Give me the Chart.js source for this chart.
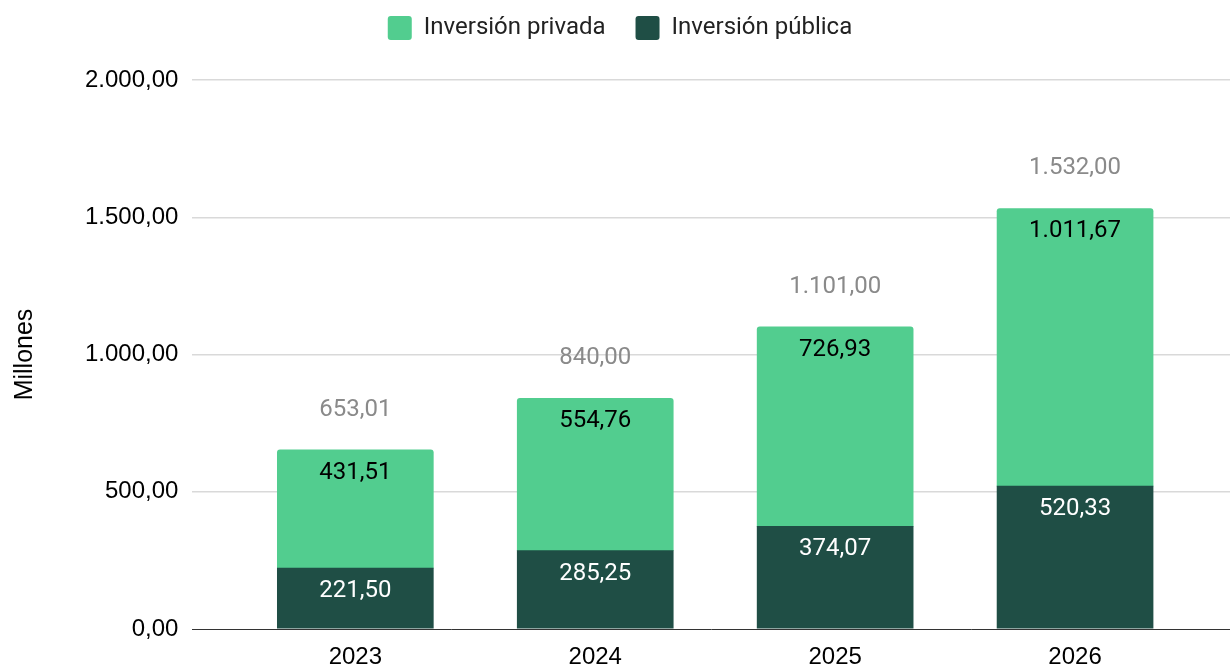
<!DOCTYPE html>
<html>
<head>
<meta charset="utf-8">
<script src="https://cdn.jsdelivr.net/npm/chart.js@4.4.1/dist/chart.umd.min.js"></script>
<style>
  html, body { margin: 0; padding: 0; background: #ffffff; }
  #wrap { width: 1230px; height: 670px; position: relative; }
</style>
</head>
<body>
<div id="wrap"><canvas id="c" width="1230" height="670"></canvas></div>
<script>
const years = ['2023', '2024', '2025', '2026'];
const publica = [221.50, 285.25, 374.07, 520.33];
const privada = [431.51, 554.76, 726.93, 1011.67];
const totals = [653.01, 840.00, 1101.00, 1532.00];
const yTicks = [0, 500, 1000, 1500, 2000];

function fmt(v) {
  const parts = v.toFixed(2).split('.');
  const intPart = parts[0].replace(/\B(?=(\d{3})+(?!\d))/g, '.');
  return intPart + ',' + parts[1];
}

const legendSpace = {
  id: 'legendSpace',
  beforeInit(chart) {
    const lg = chart.legend;
    if (!lg) return;
    const origFit = lg.fit;
    lg.fit = function () {
      origFit.call(this);
      this.height += 30;
    };
  }
};

const labelPlugin = {
  id: 'barLabels',
  afterDatasetsDraw(chart) {
    const ctx = chart.ctx;
    ctx.save();
    ctx.textAlign = 'center';
    ctx.textBaseline = 'middle';
    ctx.font = '24px Roboto';
    const metaPub = chart.getDatasetMeta(0);
    const metaPriv = chart.getDatasetMeta(1);
    metaPub.data.forEach((bar, i) => {
      ctx.fillStyle = '#ffffff';
      ctx.fillText(fmt(publica[i]), bar.x, bar.y + 23);
    });
    metaPriv.data.forEach((bar, i) => {
      ctx.fillStyle = '#000000';
      ctx.fillText(fmt(privada[i]), bar.x, bar.y + 23);
      ctx.fillStyle = '#8a8a8a';
      const yTop = chart.scales.y.getPixelForValue(totals[i]);
      ctx.fillText(fmt(totals[i]), bar.x, yTop - 40);
    });
    ctx.restore();
  }
};

new Chart(document.getElementById('c'), {
  type: 'bar',
  data: {
    datasets: [
      {
        label: 'Inversión pública',
        data: publica.map((v, i) => ({ x: i, y: v })),
        backgroundColor: '#1f4e45',
        borderWidth: 0,
        barThickness: 156
      },
      {
        label: 'Inversión privada',
        data: privada.map((v, i) => ({ x: i, y: v })),
        backgroundColor: '#52cd8f',
        borderWidth: 0,
        borderRadius: { topLeft: 3, topRight: 3, bottomLeft: 0, bottomRight: 0 },
        borderSkipped: 'bottom',
        barThickness: 156
      }
    ]
  },
  options: {
    responsive: false,
    animation: false,
    devicePixelRatio: 1,
    layout: { padding: { left: 10, right: 0, top: -14, bottom: 0 } },
    plugins: {
      tooltip: { enabled: false },
      legend: {
        display: true,
        position: 'top',
        reverse: true,
        labels: {
          boxWidth: 24,
          boxHeight: 24,
          padding: 30,
          useBorderRadius: true,
          borderRadius: 3,
          color: '#222222',
          font: { family: 'Roboto', size: 24 }
        }
      }
    },
    scales: {
      x: {
        type: 'linear',
        stacked: true,
        offset: false,
        min: -0.679,
        max: 3.6458,
        afterBuildTicks(scale) {
          scale.ticks = years.map((y, i) => ({ value: i }));
        },
        afterFit(scale) {
          scale.height = 41;
        },
        ticks: {
          callback: (v) => years[v],
          color: '#000000',
          font: { family: 'Liberation Sans', size: 24 },
          padding: 14,
          maxRotation: 0,
          autoSkip: false
        },
        grid: { display: false, drawTicks: false },
        border: { display: true, color: '#333333', width: 1 }
      },
      y: {
        stacked: true,
        min: 0,
        max: 2000,
        afterBuildTicks(scale) {
          scale.ticks = yTicks.map(v => ({ value: v }));
        },
        ticks: {
          callback: (v) => fmt(v),
          color: '#000000',
          font: { family: 'Liberation Sans', size: 24 },
          padding: 14
        },
        grid: {
          color: (c) => c.tick && c.tick.value === 0 ? 'rgba(0,0,0,0)' : '#d9d9d9',
          lineWidth: 1.5,
          drawTicks: false
        },
        border: { display: false },
        title: {
          display: true,
          text: 'Millones',
          color: '#000000',
          font: { family: 'Liberation Sans', size: 25 },
          padding: { top: 0, bottom: 31 }
        }
      }
    }
  },
  plugins: [legendSpace, labelPlugin]
});
</script>
</body>
</html>
